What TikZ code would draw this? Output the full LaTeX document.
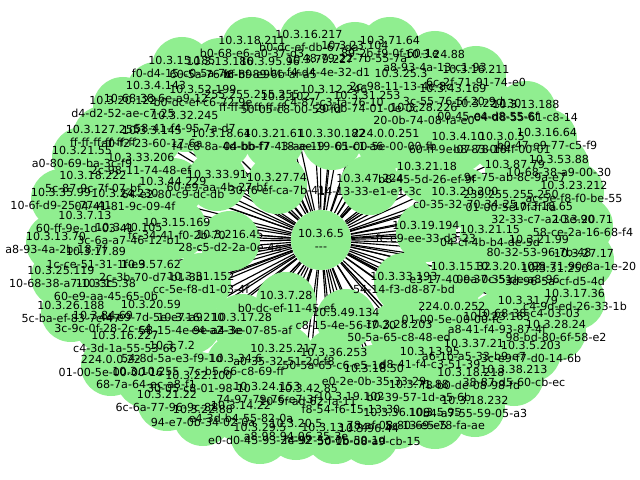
\documentclass[tikz,border=0pt]{standalone}
\usepackage{fontspec}
\setmainfont{DejaVu Sans}
\definecolor{lightgreen}{HTML}{90EE90}
\pgfdeclarelayer{edges}
\pgfdeclarelayer{texts}
\pgfsetlayers{edges,main,texts}
% x/y/ip/mac of every host round the hub
\newcommand\hostlist{309/41/10.3.16.217/b0-dc-ef-db-67-da,
252/47/10.3.18.211/b0-68-e6-a0-37-d3,
390/47/10.3.71.64/89-2b-f9-0f-60-1e,
355/52/10.3.23.104/48-79-22-7b-55-7a,
320/66/10.3.79.227/bc-f4-d4-4e-32-d1,
270/68/10.3.95.96/f6-bf-89-6b-af-a5,
220/68/10.3.13.186/60-5a-76-bf-89-e9,
182/67/10.3.15.185/f0-d4-15-c0-5a-7e,
435/61/10.3.24.88/a8-93-4a-13-c1-93,
401/80/10.3.25.3/2c-98-11-13-4e-8c,
476/76/10.3.16.211/6c-2f-71-91-74-e0,
453/95/10.3.43.169/3c-55-76-5f-20-9d,
424/114/10.3.28.226/20-0b-74-08-fa-e0,
488/110/10.3.22.130/00-45-e4-d8-55-6f,
526/111/10.3.13.188/04-d8-55-61-c8-14,
367/102/10.3.31.253/20-0b-74-01-0e-0c,
334/96/10.3.12.246/c4-87-c3-fa-76-10,
291/103/10.3.102.7/50-05-c8-00-59-fd,
252/101/255.255.255.255/ff-ff-ff-ff-ff-ff,
203/96/10.3.52.199/b0-dc-ef-c6-72-9e,
156/92/10.3.4.143/10-68-38-6e-a9-12,
123/107/10.3.20.122/d4-d2-52-ae-c7-25,
185/122/10.3.32.245/58-41-f4-95-7a-d7,
103/136/10.3.127.255/ff-ff-ff-ff-ff-ff,
152/137/10.3.3.145/a0-f2-23-60-17-6a,
221/140/10.3.18.64/f4-c8-8a-4d-bb-f7,
274/140/10.3.21.61/04-bb-f7-43-ae-19,
332/140/10.3.30.182/18-ae-19-65-c1-a6,
386/140/224.0.0.251/01-00-5e-00-00-fb,
458/143/10.3.4.10/60-ff-9e-07-78-18,
502/143/10.3.0.5/b8-83-0f-4f-00-01,
547/139/10.3.16.64/b0-47-e9-77-c5-f9,
559/166/10.3.53.88/10-68-38-a9-00-30,
515/171/10.3.87.79/9c-75-ab-8c-9a-e7,
427/173/10.3.21.18/b8-45-5d-26-ef-9f,
370/185/10.3.47.224/14-13-33-e1-e1-3c,
277/184/10.3.27.74/30-f6-ef-ca-7b-41,
217/181/10.3.33.91/60-e9-aa-4b-27-bf,
173/188/10.3.44.229/64-e2-80-c9-dc-db,
141/164/10.3.33.206/2c-98-11-74-48-ef,
82/157/10.3.21.55/a0-80-69-ba-3c-f9,
93/182/10.3.18.222/5c-87-9c-7f-07-bf,
61/199/10.3.35.99/10-6f-d9-25-77-41,
125/200/10.3.24.230/04-41-81-9c-09-4f,
85/222/10.3.7.13/60-ff-9e-1d-03-41,
129/234/10.3.40.105/3c-6a-a7-46-12-b1,
177/229/10.3.15.169/fc-34-41-f0-2b-70,
230/241/10.3.216.45/28-c5-d2-2a-0e-4a,
56/243/10.3.13.70/a8-93-4a-2b-18-7f,
96/258/10.3.17.89/1c-ce-51-31-1f-e9,
151/271/10.3.57.62/2c-3b-70-d7-b1-3b,
61/277/10.3.25.119/10-68-38-a7-10-3c,
201/283/10.3.31.152/cc-5e-f8-d1-03-4f,
106/290/10.3.15.38/60-e9-aa-45-65-0b,
71/312/10.3.26.188/5c-ba-ef-83-7c-47,
151/311/10.3.20.59/44-e9-7d-5e-e7-a9,
103/322/10.3.84.69/3c-9c-0f-28-2c-c4,
191/324/10.3.16.210/58-15-4e-9e-a4-3e,
125/342/10.3.16.227/c4-3d-1a-55-53-66,
172/352/10.3.7.2/54-8d-5a-e3-f9-1d,
111/366/224.0.0.22/01-00-5e-00-00-16,
146/378/10.3.10.255/68-7a-64-ec-a8-f1,
199/382/10.3.22.100/30-05-c8-01-98-10,
167/401/10.3.21.22/6c-6a-77-96-9c-88,
203/416/10.3.22.88/94-e7-0b-34-02-0a,
241/412/10.3.14.22/e4-3d-b4-55-82-0a,
260/434/10.3.29.5/e0-d0-45-93-2c-92,
296/430/10.3.20.5/a8-98-94-06-35-3e,
242/324/10.3.17.28/e4-a2-3e-07-85-af,
236/365/10.3.34.6/7c-b5-66-c8-69-ff,
284/355/10.3.25.217/a0-35-32-51-2d-f8,
267/393/10.3.24.153/74-97-79-76-e7-3f,
308/395/10.3.42.85/10-5f-ad-62-fa-11,
334/359/10.3.36.253/50-5a-65-c6-e5-1d,
374/375/10.3.18.50/e0-2e-0b-35-33-29,
351/403/10.3.19.102/f8-54-f6-15-13-30,
419/391/10.3.71.88/b0-39-57-1d-a5-6b,
397/419/10.3.36.109/78-af-08-80-69-e5,
335/434/10.3.13.174/f4-92-5d-0b-50-1d,
369/435/10.3.96.44/50-1b-d8-a9-cb-15,
435/419/10.3.5.95/5c-13-e5-78-fa-ae,
475/407/10.3.18.232/b4-a7-55-59-05-a3,
471/379/10.3.18.218/f8-b0-de-08-98-fd,
514/376/10.3.38.213/38-87-d5-60-cb-ec,
430/358/10.3.13.95/d8-41-f4-c3-51-39,
474/350/10.3.37.21/a6-1b-a5-33-b9-e7,
531/352/10.3.5.203/3c-e9-f7-d0-14-6b,
556/331/10.3.28.24/98-bd-80-6f-58-e2,
497/323/10.3.23.165/a8-41-f4-93-87-4f,
399/331/10.3.28.203/50-5a-65-c8-48-ed,
346/319/10.3.49.134/c8-15-4e-56-f7-20,
452/313/224.0.0.252/01-00-5e-00-00-fc,
528/307/10.3.31.79/10-68-38-c4-03-03,
575/300/10.3.17.36/c4-9d-ed-26-33-1b,
286/302/10.3.7.28/b0-dc-ef-11-45-ef,
404/283/10.3.33.193/54-14-f3-d8-87-bd,
461/273/10.3.15.32/e3-17-40-9a-0c-51,
508/273/10.3.20.102/0c-37-35-de-a8-96,
555/275/10.3.31.250/3d-96-5a-cf-d5-4d,
584/260/10.3.27.17/98-71-90-8a-1e-20,
539/246/10.3.21.99/80-32-53-96-7b-48,
490/236/10.3.21.15/04-cf-4b-b4-de-5d,
426/232/10.3.19.194/fc-e9-ee-33-d3-23,
583/226/10.3.20.71/58-ce-2a-16-68-f4,
543/213/10.3.18.65/32-33-c7-a2-3e-90,
511/201/239.255.255.250/01-00-5e-7f-ff-fa,
465/198/10.3.20.200/c0-35-32-70-34-25,
574/192/10.3.23.212/ac-5e-f8-f0-be-55}
\begin{document}
\begin{tikzpicture}[x=0.025cm,y=-0.025cm,
    host/.style={circle,fill=lightgreen,inner sep=0pt,minimum size=1.5cm},
    tag/.style={align=center,inner sep=0pt,font=\fontsize{7.9}{9.2}\selectfont},
    link/.style={line width=0.8pt}]
    \useasboundingbox (0,0) rectangle (640,480);
    \node[host] (hub) at (321,240) {};
    \begin{pgfonlayer}{texts}
        \node[tag] (thub) at (hub) {10.3.6.5\\-{}-{}-};
    \end{pgfonlayer}
    \foreach \x/\y/\ip/\mac [count=\i] in \hostlist {
        \node[host] (h\i) at (\x,\y) {};
        \begin{pgfonlayer}{edges}
            \draw[link] (hub) -- (h\i);
        \end{pgfonlayer}
        \begin{pgfonlayer}{texts}
            \node[tag] (t\i) at (h\i) {\ip\\\mac};
        \end{pgfonlayer}
    }
\end{tikzpicture}
\end{document}
